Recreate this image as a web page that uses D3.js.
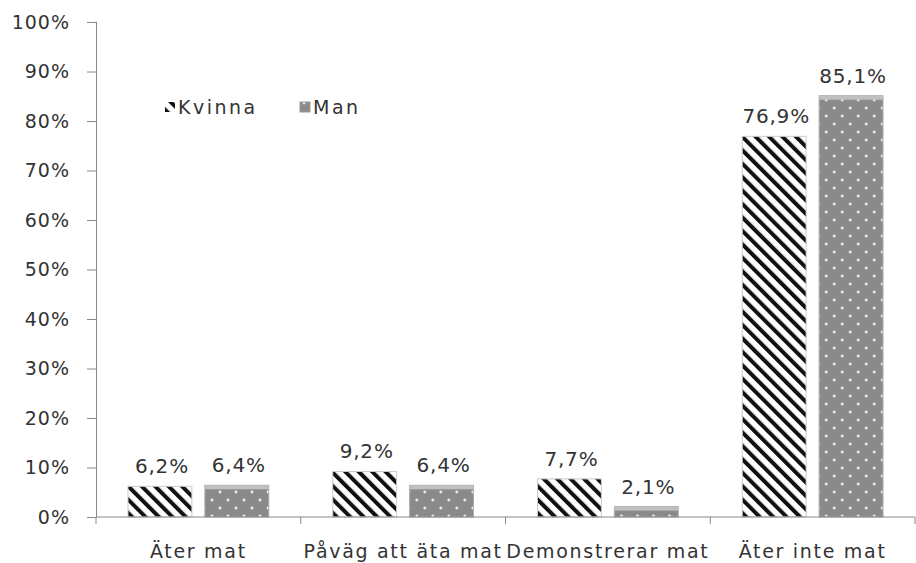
<!DOCTYPE html>
<html><head><meta charset="utf-8">
<script src="https://cdn.jsdelivr.net/npm/d3@7"></script>
<style>body{margin:0;background:#fff;} text{font-family:"DejaVu Sans",sans-serif;fill:#333;}</style>
</head><body>
<svg id="c" width="916" height="563"></svg>
<script>
const categories = ["Äter mat", "Påväg att äta mat", "Demonstrerar mat", "Äter inte mat"];
const seriesNames = ["Kvinna", "Man"];
const kvinna = [6.2, 9.2, 7.7, 76.9];
const man = [6.4, 6.4, 2.1, 85.1];
const yTicks = [0,10,20,30,40,50,60,70,80,90,100];

const svg = d3.select("#c");
const m = {l:96, r:1, t:22, b:46};
const W = 916, H = 563;
const x0 = d3.scaleBand().domain(categories).range([m.l, W - m.r]).paddingInner(0).paddingOuter(0);
const x1 = d3.scaleBand().domain(seriesNames).range([0, x0.bandwidth()]).paddingInner(0.169).paddingOuter(0.416);
const y = d3.scaleLinear().domain([0,100]).range([H - m.b, m.t]);

const defs = svg.append("defs");
const hp = defs.append("pattern").attr("id","hatch").attr("patternUnits","userSpaceOnUse")
  .attr("width",9.5).attr("height",10).attr("patternTransform","rotate(-45)");
hp.append("rect").attr("width",9.5).attr("height",10).attr("fill","#fff");
hp.append("rect").attr("width",4).attr("height",10).attr("fill","#111");
const dp = defs.append("pattern").attr("id","dots").attr("patternUnits","userSpaceOnUse")
  .attr("width",16).attr("height",16);
dp.append("rect").attr("width",16).attr("height",16).attr("fill","#8a8a8a");
dp.append("circle").attr("cx",4).attr("cy",4).attr("r",1.4).attr("fill","#f0f0f0");
dp.append("circle").attr("cx",12).attr("cy",12).attr("r",1.4).attr("fill","#f0f0f0");

const data = categories.map((c,i)=>({c, vals:[{s:"Kvinna",v:kvinna[i]},{s:"Man",v:man[i]}]}));
const g = svg.append("g");
const groups = g.selectAll("g.cat").data(data).join("g").attr("transform",d=>`translate(${x0(d.c)},0)`);
groups.each(function(d){
  const gg = d3.select(this);
  d.vals.forEach(p=>{
    const bx = x1(p.s), bw = x1.bandwidth(), by = y(p.v), bh = y(0)-y(p.v);
    gg.append("rect").attr("x",bx).attr("y",by).attr("width",bw).attr("height",bh)
      .attr("fill", p.s==="Kvinna" ? "url(#hatch)" : "url(#dots)")
      .attr("stroke", p.s==="Kvinna" ? "#ccc" : "#aaa").attr("stroke-width",1);
    if (p.s==="Man") {
      gg.append("rect").attr("x",bx).attr("y",by).attr("width",bw).attr("height",Math.min(4,bh))
        .attr("fill","#c0c0c0");
    }
    gg.append("text").attr("x",bx+bw/2+2).attr("y",by-13).attr("text-anchor","middle")
      .attr("font-size",20).attr("letter-spacing",0.8)
      .text(String(p.v.toFixed(1)).replace(".",",")+"%");
  });
});

// y axis
const ya = svg.append("g").attr("transform",`translate(${m.l},0)`)
  .call(d3.axisLeft(y).tickValues(yTicks).tickFormat(d=>d+"%").tickSize(9).tickPadding(17));
ya.selectAll("path,line").attr("stroke","#888");
ya.select(".domain").attr("d",`M-0.5,${y(100)}H0.5V${y(0)}`);
ya.selectAll("text").attr("font-size",19).attr("letter-spacing",1).attr("fill","#333")
  .style("font-family",'"DejaVu Sans",sans-serif');

// x axis
const xa = svg.append("g").attr("transform",`translate(0,${y(0)})`);
xa.append("line").attr("x1",m.l).attr("x2",W-m.r).attr("y1",0).attr("y2",0).attr("stroke","#888");
const bounds = categories.map(c=>x0(c)).concat([x0(categories[categories.length-1])+x0.bandwidth()]);
xa.selectAll("line.t").data(bounds).join("line").attr("class","t")
  .attr("x1",d=>d).attr("x2",d=>d).attr("y1",0).attr("y2",7).attr("stroke","#888");
xa.selectAll("text").data(categories).join("text")
  .attr("x",d=>x0(d)+x0.bandwidth()/2).attr("y",41).attr("text-anchor","middle")
  .attr("font-size",19).attr("letter-spacing",1.7).text(d=>d);

// legend
const lg = svg.append("g").attr("transform","translate(165,99)");
const lx = [0, 135];
seriesNames.forEach((s,i)=>{
  const it = lg.append("g").attr("transform",`translate(${lx[i]},0)`);
  it.append("rect").attr("x",0).attr("y",3).attr("width",10).attr("height",10)
    .attr("fill", i===0 ? "url(#hatch)" : "url(#dots)").attr("stroke", i===0?"none":"#999");
  it.append("text").attr("x",13).attr("y",15).attr("font-size",19).attr("letter-spacing",2.5).text(s);
});
</script>
</body></html>
